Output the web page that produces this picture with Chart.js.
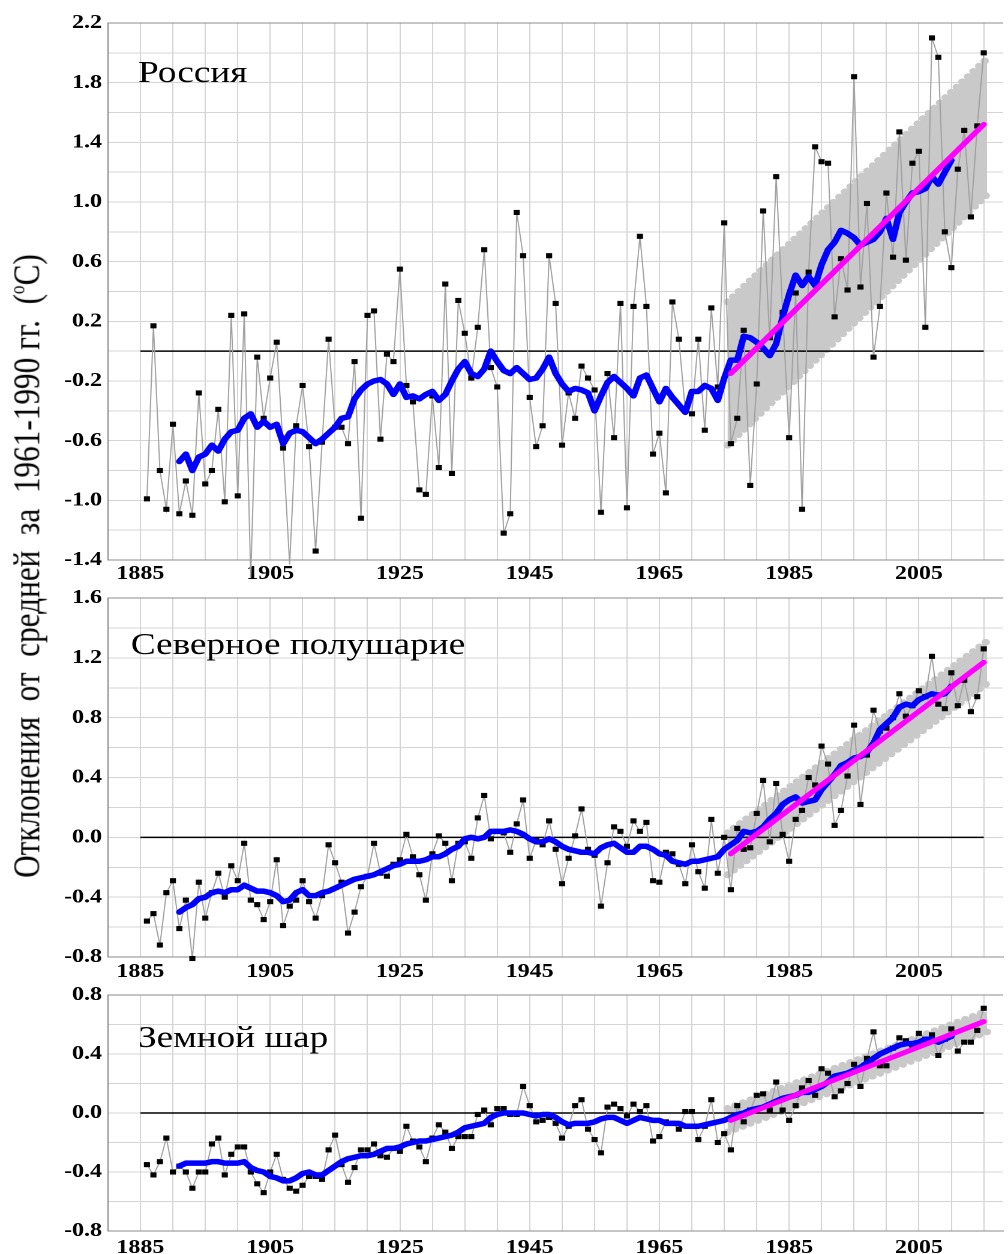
<!DOCTYPE html>
<html lang="ru">
<head>
<meta charset="utf-8">
<title>Аномалии температуры</title>
<script src="https://cdn.jsdelivr.net/npm/chart.js@4.4.1/dist/chart.umd.min.js"></script>
<style>
  html, body { margin: 0; padding: 0; background: #fff; }
  body { width: 1008px; height: 1254px; position: relative; overflow: hidden; }
  .panel { position: absolute; left: 0; transform-origin: 0 0; transform: scaleX(1.2); }
  #ytitle {
    position: absolute; left: 0; top: 0;
    font-family: 'Liberation Serif', serif; font-size: 37px; line-height: 1;
    white-space: pre; color: #000; transform-origin: 50% 50%;
  }
  #ytitle sup { font-size: 0.55em; vertical-align: 0.75em; line-height: 0; }
</style>
</head>
<body>
<canvas id="russia" class="panel" width="840" height="592" style="top:0px"></canvas>
<canvas id="nh" class="panel" width="840" height="415" style="top:575px"></canvas>
<canvas id="globe" class="panel" width="840" height="282" style="top:972px"></canvas>
<div id="ytitle">Отклонения  от  средней  за  1961-1990 гг.  (<sup>o</sup>C)</div>
<script>
// years of the annual anomalies
const years = [
  1886, 1887, 1888, 1889, 1890,
  1891, 1892, 1893, 1894, 1895, 1896, 1897, 1898, 1899, 1900,
  1901, 1902, 1903, 1904, 1905, 1906, 1907, 1908, 1909, 1910,
  1911, 1912, 1913, 1914, 1915, 1916, 1917, 1918, 1919, 1920,
  1921, 1922, 1923, 1924, 1925, 1926, 1927, 1928, 1929, 1930,
  1931, 1932, 1933, 1934, 1935, 1936, 1937, 1938, 1939, 1940,
  1941, 1942, 1943, 1944, 1945, 1946, 1947, 1948, 1949, 1950,
  1951, 1952, 1953, 1954, 1955, 1956, 1957, 1958, 1959, 1960,
  1961, 1962, 1963, 1964, 1965, 1966, 1967, 1968, 1969, 1970,
  1971, 1972, 1973, 1974, 1975, 1976, 1977, 1978, 1979, 1980,
  1981, 1982, 1983, 1984, 1985, 1986, 1987, 1988, 1989, 1990,
  1991, 1992, 1993, 1994, 1995, 1996, 1997, 1998, 1999, 2000,
  2001, 2002, 2003, 2004, 2005, 2006, 2007, 2008, 2009, 2010,
  2011, 2012, 2013, 2014, 2015
];
// 11-year running mean is plotted 1891..2010
const smoothYears = years.slice(5, 125);
const trendYears = [1976, 2015];
const bandYears = [1975.5, 2015.5];
const zeroYears = [1885, 2015];
const zeroLine = [0, 0];

// x axis: gridlines every 5 years, labels every 20
const xGridYears = [1880, 1885, 1890, 1895, 1900, 1905, 1910, 1915, 1920, 1925, 1930, 1935, 1940,
  1945, 1950, 1955, 1960, 1965, 1970, 1975, 1980, 1985, 1990, 1995, 2000, 2005, 2010, 2015];
const xLabelYears = [1885, 1905, 1925, 1945, 1965, 1985, 2005];

// ---- Россия ----
const rusAnnual = [
  -0.99, 0.17, -0.80, -1.06, -0.49,
  -1.09, -0.87, -1.10, -0.28, -0.89, -0.80, -0.39, -1.01, 0.24, -0.97,
  0.25, -1.52, -0.04, -0.45, -0.18, 0.06, -0.65, -1.43, -0.50, -0.23,
  -0.64, -1.34, -0.61, 0.08, -0.51, -0.51, -0.62, -0.07, -1.12, 0.24,
  0.27, -0.59, -0.02, -0.07, 0.55, -0.23, -0.34, -0.93, -0.96, -0.30,
  -0.78, 0.45, -0.82, 0.34, 0.12, -0.18, 0.16, 0.68, -0.11, -0.24,
  -1.22, -1.09, 0.93, 0.64, -0.31, -0.64, -0.50, 0.64, 0.32, -0.63,
  -0.28, -0.45, -0.10, -0.18, -0.26, -1.08, -0.15, -0.58, 0.32, -1.05,
  0.30, 0.77, 0.30, -0.69, -0.55, -0.95, 0.33, 0.08, -0.40, -0.42,
  0.08, -0.53, 0.29, -0.24, 0.86, -0.62, -0.45, 0.14, -0.90, -0.22,
  0.94, 0.09, 1.17, 0.26, -0.58, 0.39, -1.06, 0.53, 1.37, 1.27,
  1.26, 0.23, 0.62, 0.41, 1.84, 0.43, 0.99, -0.04, 0.30, 1.06,
  0.63, 1.47, 0.61, 1.26, 1.34, 0.16, 2.10, 1.97, 0.80, 0.56,
  1.22, 1.48, 0.90, 1.51, 2.00
];
const rusSmooth = [
  -0.74, -0.69, -0.80, -0.71, -0.69, -0.63, -0.67, -0.59, -0.54, -0.53,
  -0.45, -0.42, -0.51, -0.47, -0.51, -0.49, -0.62, -0.55, -0.53, -0.54,
  -0.58, -0.62, -0.59, -0.55, -0.51, -0.45, -0.44, -0.32, -0.26, -0.22,
  -0.20, -0.19, -0.22, -0.29, -0.22, -0.31, -0.30, -0.32, -0.29, -0.27,
  -0.33, -0.29, -0.20, -0.12, -0.07, -0.15, -0.17, -0.12, 0.00, -0.07,
  -0.13, -0.15, -0.11, -0.15, -0.19, -0.18, -0.12, -0.04, -0.15, -0.22,
  -0.27, -0.25, -0.26, -0.28, -0.40, -0.30, -0.21, -0.17, -0.21, -0.25,
  -0.30, -0.18, -0.16, -0.25, -0.34, -0.25, -0.31, -0.36, -0.41, -0.27,
  -0.27, -0.23, -0.25, -0.33, -0.18, -0.06, -0.06, 0.10, 0.09, 0.06,
  0.02, -0.03, 0.05, 0.23, 0.38, 0.51, 0.44, 0.50, 0.44, 0.58,
  0.68, 0.73, 0.81, 0.79, 0.76, 0.71, 0.73, 0.75, 0.80, 0.89,
  0.75, 0.93, 1.00, 1.06, 1.07, 1.09, 1.17, 1.12, 1.20, 1.28
];
const rusTrend = [-0.15, 1.52];
const rusBandHigh = [0.33, 1.96];
const rusBandLow = [-0.63, 1.05];
const rusYGrid = [-1.4, -1.2, -1.0, -0.8, -0.6, -0.4, -0.2, 0.0, 0.2, 0.4, 0.6, 0.8, 1.0, 1.2, 1.4, 1.6, 1.8, 2.0, 2.2];
const rusYLabels = [-1.4, -1.0, -0.6, -0.2, 0.2, 0.6, 1.0, 1.4, 1.8, 2.2];

// ---- Северное полушарие ----
const nhAnnual = [
  -0.56, -0.51, -0.72, -0.37, -0.29,
  -0.61, -0.42, -0.81, -0.30, -0.54, -0.37, -0.24, -0.40, -0.19, -0.29,
  -0.04, -0.42, -0.45, -0.55, -0.43, -0.15, -0.59, -0.46, -0.42, -0.29,
  -0.43, -0.54, -0.39, -0.05, -0.17, -0.30, -0.64, -0.50, -0.33, -0.26,
  -0.04, -0.24, -0.26, -0.18, -0.15, 0.02, -0.13, -0.25, -0.42, -0.11,
  0.01, -0.04, -0.29, -0.04, -0.03, -0.14, 0.13, 0.28, -0.01, 0.04,
  0.03, -0.10, 0.09, 0.25, -0.14, -0.02, -0.05, 0.11, -0.08, -0.31,
  -0.14, 0.01, 0.19, -0.08, -0.12, -0.46, -0.17, 0.07, 0.04, -0.06,
  0.11, 0.04, 0.10, -0.29, -0.30, -0.10, -0.11, -0.18, -0.31, -0.05,
  -0.23, -0.34, 0.12, -0.24, 0.00, -0.35, 0.06, -0.08, -0.07, 0.16,
  0.38, -0.03, 0.36, 0.02, -0.16, 0.12, 0.18, 0.40, 0.35, 0.61,
  0.49, 0.08, 0.18, 0.41, 0.75, 0.22, 0.55, 0.85, 0.71, 0.73,
  0.80, 0.96, 0.81, 0.88, 0.98, 0.94, 1.21, 0.89, 0.86, 1.10,
  0.88, 1.05, 0.84, 0.94, 1.26
];
const nhSmooth = [
  -0.50, -0.47, -0.45, -0.41, -0.40, -0.37, -0.36, -0.37, -0.35, -0.35,
  -0.32, -0.34, -0.36, -0.36, -0.37, -0.39, -0.43, -0.42, -0.37, -0.35,
  -0.39, -0.39, -0.37, -0.36, -0.34, -0.32, -0.30, -0.28, -0.27, -0.26,
  -0.25, -0.23, -0.21, -0.19, -0.18, -0.16, -0.16, -0.16, -0.15, -0.13,
  -0.13, -0.11, -0.08, -0.06, -0.01, 0.00, -0.01, 0.00, 0.04, 0.04,
  0.04, 0.05, 0.04, 0.02, -0.01, -0.03, -0.03, -0.01, -0.03, -0.06,
  -0.08, -0.09, -0.10, -0.10, -0.11, -0.07, -0.05, -0.04, -0.07, -0.10,
  -0.10, -0.06, -0.06, -0.08, -0.11, -0.12, -0.16, -0.17, -0.18, -0.16,
  -0.16, -0.15, -0.14, -0.13, -0.08, -0.05, -0.02, 0.04, 0.03, 0.04,
  0.07, 0.12, 0.16, 0.22, 0.25, 0.27, 0.23, 0.24, 0.25, 0.32,
  0.37, 0.42, 0.48, 0.50, 0.53, 0.54, 0.57, 0.63, 0.72, 0.76,
  0.80, 0.87, 0.89, 0.88, 0.92, 0.94, 0.96, 0.95, 0.96, 1.01
];
const nhTrend = [-0.11, 1.17];
const nhBandHigh = [0.03, 1.31];
const nhBandLow = [-0.25, 1.03];
const nhYGrid = [-0.8, -0.6, -0.4, -0.2, 0.0, 0.2, 0.4, 0.6, 0.8, 1.0, 1.2, 1.4, 1.6];
const nhYLabels = [-0.8, -0.4, 0.0, 0.4, 0.8, 1.2, 1.6];

// ---- Земной шар ----
const globeAnnual = [
  -0.35, -0.42, -0.33, -0.17, -0.40,
  -0.36, -0.40, -0.51, -0.40, -0.40, -0.21, -0.17, -0.42, -0.28, -0.23,
  -0.23, -0.40, -0.48, -0.54, -0.40, -0.28, -0.45, -0.51, -0.53, -0.49,
  -0.43, -0.43, -0.45, -0.25, -0.15, -0.35, -0.47, -0.37, -0.25, -0.25,
  -0.21, -0.29, -0.30, -0.24, -0.26, -0.09, -0.19, -0.23, -0.33, -0.17,
  -0.08, -0.13, -0.24, -0.16, -0.16, -0.16, -0.01, 0.02, -0.08, 0.03,
  0.03, -0.01, -0.01, 0.18, 0.05, -0.06, -0.05, -0.03, -0.07, -0.17,
  -0.09, 0.05, 0.09, -0.11, -0.18, -0.27, 0.04, 0.06, 0.03, -0.02,
  0.06, 0.01, 0.05, -0.19, -0.16, -0.06, -0.07, -0.11, 0.01, 0.01,
  -0.18, -0.09, 0.09, -0.20, -0.14, -0.25, 0.05, -0.06, 0.02, 0.12,
  0.13, 0.02, 0.21, 0.02, -0.05, 0.05, 0.17, 0.22, 0.12, 0.30,
  0.27, 0.11, 0.15, 0.20, 0.33, 0.18, 0.37, 0.55, 0.32, 0.32,
  0.44, 0.51, 0.49, 0.46, 0.54, 0.50, 0.53, 0.39, 0.50, 0.57,
  0.42, 0.48, 0.48, 0.56, 0.71
];
const globeSmooth = [
  -0.36, -0.34, -0.34, -0.34, -0.34, -0.33, -0.33, -0.34, -0.34, -0.34,
  -0.33, -0.37, -0.39, -0.40, -0.43, -0.44, -0.46, -0.46, -0.44, -0.41,
  -0.40, -0.42, -0.42, -0.39, -0.36, -0.33, -0.31, -0.30, -0.29, -0.29,
  -0.28, -0.26, -0.24, -0.24, -0.23, -0.21, -0.20, -0.19, -0.19, -0.18,
  -0.17, -0.16, -0.15, -0.13, -0.10, -0.09, -0.08, -0.07, -0.03, -0.01,
  0.00, 0.00, 0.00, 0.00, -0.01, -0.02, -0.01, -0.01, -0.03, -0.06,
  -0.08, -0.07, -0.07, -0.07, -0.06, -0.04, -0.03, -0.03, -0.05, -0.07,
  -0.05, -0.03, -0.04, -0.05, -0.05, -0.07, -0.07, -0.07, -0.09, -0.09,
  -0.09, -0.08, -0.07, -0.06, -0.05, -0.03, -0.01, 0.00, 0.02, 0.03,
  0.04, 0.06, 0.08, 0.10, 0.11, 0.12, 0.14, 0.14, 0.16, 0.18,
  0.21, 0.25, 0.26, 0.27, 0.29, 0.31, 0.34, 0.37, 0.40, 0.42,
  0.44, 0.46, 0.47, 0.47, 0.48, 0.50, 0.50, 0.48, 0.50, 0.52
];
const globeTrend = [-0.05, 0.62];
const globeBandHigh = [0.03, 0.69];
const globeBandLow = [-0.13, 0.55];
const globeYGrid = [-0.8, -0.6, -0.4, -0.2, 0.0, 0.2, 0.4, 0.6, 0.8];
const globeYLabels = [-0.8, -0.4, 0.0, 0.4, 0.8];

Chart.defaults.font.family = '"Liberation Serif", "Times New Roman", serif';
Chart.defaults.color = '#000';

const tickFont = { family: '"Liberation Serif", serif', size: 20, weight: 'bold' };
const gridColor = '#d4d4d4';
const axisColor = '#8a8a8a';
const bandColor = '#c9c9c9';

const pts = (xs, ys) => xs.map((x, i) => ({ x: x, y: ys[i] }));

// region name written inside the plot area
const panelTitle = {
  id: 'panelTitle',
  afterDraw(chart, args, opts) {
    const { ctx, chartArea } = chart;
    ctx.save();
    ctx.font = '31px "Liberation Serif", serif';
    ctx.fillStyle = '#000';
    ctx.textBaseline = 'alphabetic';
    ctx.fillText(opts.text, chartArea.left + opts.dx, chartArea.top + opts.dy);
    ctx.restore();
  }
};

function makePanel(id, p) {
  const yMax = p.yGrid[p.yGrid.length - 1];
  // band edges are dotted with round caps so the edge looks scalloped
  const bandEdge = { borderColor: bandColor, borderWidth: 7, borderDash: [0.01, 7], borderCapStyle: 'round',
    pointRadius: 0, clip: false };
  return new Chart(document.getElementById(id), {
    type: 'line',
    data: {
      datasets: [
        { label: 'trend', data: pts(trendYears, p.trend), borderColor: '#ff00ff', borderWidth: 5,
          pointRadius: 0, borderCapStyle: 'round', order: 1 },
        { label: 'smooth', data: pts(smoothYears, p.smooth), borderColor: '#0000ff', borderWidth: 5.5,
          pointRadius: 0, borderJoinStyle: 'round', borderCapStyle: 'round', order: 2 },
        { label: 'annual', data: pts(years, p.annual), borderColor: '#a0a0a0', borderWidth: 1,
          pointStyle: 'rect', pointRadius: 3.6, pointBackgroundColor: '#000', pointBorderWidth: 0,
          clip: false, order: 3 },
        { label: 'zero', data: pts(zeroYears, zeroLine), borderColor: '#000', borderWidth: 1.5,
          pointRadius: 0, order: 4 },
        Object.assign({ label: 'bandHigh', data: pts(bandYears, p.bandHigh), fill: '+1',
          backgroundColor: bandColor, order: 5 }, bandEdge),
        Object.assign({ label: 'bandLow', data: pts(bandYears, p.bandLow), fill: false, order: 6 }, bandEdge)
      ]
    },
    options: {
      responsive: false,
      devicePixelRatio: 2,
      animation: false,
      events: [],
      layout: { padding: { top: 23, left: 0, right: 0, bottom: 0 } },
      elements: { line: { tension: 0 } },
      plugins: {
        legend: { display: false },
        tooltip: { enabled: false },
        panelTitle: { text: p.title, dx: p.titleDx, dy: p.titleDy }
      },
      scales: {
        x: {
          type: 'linear', min: 1880, max: 2018,
          afterBuildTicks: s => { s.ticks = xGridYears.map(v => ({ value: v })); },
          afterFit: s => { s.height = p.xHeight; },
          ticks: {
            autoSkip: false, maxRotation: 0, padding: p.xPad, font: tickFont, color: '#000',
            callback: v => (xLabelYears.includes(v) ? String(v) : '')
          },
          grid: { color: gridColor, lineWidth: 1, drawTicks: false },
          border: { color: axisColor, width: 1 }
        },
        y: {
          type: 'linear', min: p.yGrid[0], max: yMax,
          afterBuildTicks: s => { s.ticks = p.yGrid.map(v => ({ value: v })); },
          afterFit: s => { s.width = 90; },
          ticks: {
            autoSkip: false, padding: 5, font: tickFont, color: '#000',
            callback: v => (p.yLabels.some(l => Math.abs(l - v) < 1e-6) ? (Math.round(v * 10) / 10).toFixed(1) : '')
          },
          grid: {
            color: c => (c.tick && Math.abs(c.tick.value - yMax) < 1e-6 ? axisColor : gridColor),
            lineWidth: 1, drawTicks: false
          },
          border: { color: axisColor, width: 1 }
        }
      }
    },
    plugins: [panelTitle]
  });
}

makePanel('russia', {
  title: 'Россия', titleDx: 25, titleDy: 59,
  annual: rusAnnual, smooth: rusSmooth, trend: rusTrend,
  bandHigh: rusBandHigh, bandLow: rusBandLow,
  yGrid: rusYGrid, yLabels: rusYLabels, xHeight: 32, xPad: 2
});
makePanel('nh', {
  title: 'Северное полушарие', titleDx: 19, titleDy: 56,
  annual: nhAnnual, smooth: nhSmooth, trend: nhTrend,
  bandHigh: nhBandHigh, bandLow: nhBandLow,
  yGrid: nhYGrid, yLabels: nhYLabels, xHeight: 33, xPad: 3
});
makePanel('globe', {
  title: 'Земной шар', titleDx: 25, titleDy: 52,
  annual: globeAnnual, smooth: globeSmooth, trend: globeTrend,
  bandHigh: globeBandHigh, bandLow: globeBandLow,
  yGrid: globeYGrid, yLabels: globeYLabels, xHeight: 23, xPad: 5
});

// shared vertical axis title, condensed along its length
function placeYTitle() {
  const el = document.getElementById('ytitle');
  const w = el.offsetWidth, h = el.offsetHeight;
  const k = 624 / w;
  el.style.transform = 'translate(' + (27 - w / 2) + 'px,' + (566 - h / 2) + 'px) rotate(-90deg) scaleX(' + k + ')';
}
placeYTitle();
if (document.fonts && document.fonts.ready) document.fonts.ready.then(placeYTitle);
</script>
</body>
</html>
